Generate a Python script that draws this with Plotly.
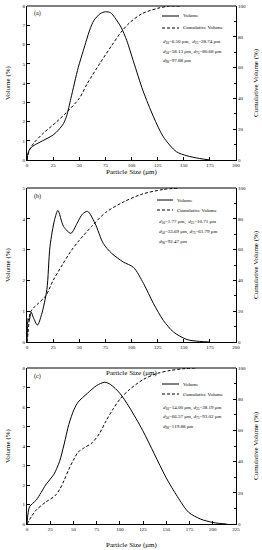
import plotly.graph_objects as go
from plotly.subplots import make_subplots

# ---------------- data ----------------
# Panel (a)
a_vol_x = [0, 1, 3, 8, 15, 25, 30, 35, 38, 42, 49, 54, 60, 64, 70, 75, 80, 84, 90, 95.5, 102, 111, 121, 130.5, 143, 153, 165, 175]
a_vol_y = [0, 0.35, 0.6, 0.8, 1.0, 1.3, 1.55, 1.9, 2.3, 3.2, 4.8, 5.7, 6.75, 7.25, 7.6, 7.7, 7.65, 7.4, 6.9, 6.2, 5.1, 3.6, 2.25, 1.2, 0.43, 0.22, 0.08, 0]
a_cum_x = [0, 2, 6.5, 15, 28.7, 38, 50, 58, 70, 80.7, 90, 98, 110, 125, 135, 148]
a_cum_y = [0, 6, 11, 17, 25, 31, 40, 50, 63, 74, 83, 89, 95, 98.5, 99.8, 100]
a_text = ["<i>d</i><sub>10</sub>=6.50 μm,  <i>d</i><sub>25</sub>=28.74 μm",
          "<i>d</i><sub>50</sub>=58.13 μm, <i>d</i><sub>75</sub>=80.68 μm",
          "<i>d</i><sub>90</sub>=97.88 μm"]

# Panel (b)
b_vol_x = [0, 0.5, 1, 2, 4, 6, 10, 14, 19, 22, 26.4, 29.6, 35, 42, 48, 53, 58, 65, 73, 81, 92, 102, 111.5, 121, 130.5, 140, 153, 165, 175]
b_vol_y = [0, 0.5, 0.76, 0.7, 0.97, 0.8, 0.55, 0.9, 1.7, 3.1, 3.97, 4.27, 3.75, 3.53, 3.86, 4.15, 4.24, 3.86, 3.2, 2.88, 2.6, 2.42, 1.9, 1.25, 0.7, 0.33, 0.08, 0.02, 0]
b_cum_x = [0, 1, 1.77, 3, 6, 10.7, 18, 25, 33.7, 42, 50, 61.8, 75, 92.5, 110, 130, 146]
b_cum_y = [0, 6, 12, 19, 22, 25, 30, 40, 50, 59, 66, 75, 84, 91, 96, 99, 100]
b_text = ["<i>d</i><sub>10</sub>=1.77 μm,  <i>d</i><sub>25</sub>=10.71 μm",
          "<i>d</i><sub>50</sub>=33.69 μm, <i>d</i><sub>75</sub>=61.79 μm",
          "<i>d</i><sub>90</sub>=92.47 μm"]

# Panel (c)
c_vol_x = [0, 1, 2.8, 6, 10, 15, 20, 25, 29, 35, 40, 45, 50.5, 55, 65, 75, 83.6, 90, 100, 110, 124.5, 137, 149.5, 162, 174, 187, 199, 207, 215]
c_vol_y = [0, 0.5, 0.89, 1.05, 1.23, 1.6, 2.0, 2.3, 2.55, 3.2, 4.1, 5.1, 5.86, 6.25, 6.7, 7.1, 7.27, 7.15, 6.7, 6.0, 4.8, 3.6, 2.4, 1.4, 0.6, 0.25, 0.09, 0.03, 0]
c_cum_x = [0, 5, 10, 20, 30, 35, 40, 45, 50, 55, 62, 70, 78, 85, 93, 100, 110, 125, 140, 155, 170, 181]
c_cum_y = [0, 5, 9, 14, 18, 22, 28, 35, 41, 46, 49, 52, 58, 66, 74, 80, 86, 92.6, 96.5, 98.5, 99.6, 100]
c_text = ["<i>d</i><sub>10</sub>=14.00 μm, <i>d</i><sub>25</sub>=38.19 μm",
          "<i>d</i><sub>50</sub>=66.57 μm, <i>d</i><sub>75</sub>=93.02 μm",
          "<i>d</i><sub>90</sub>=119.88 μm"]

panels = [
    dict(label="(a)", vx=a_vol_x, vy=a_vol_y, cx=a_cum_x, cy=a_cum_y, txt=a_text, xmax=200, ymax=8),
    dict(label="(b)", vx=b_vol_x, vy=b_vol_y, cx=b_cum_x, cy=b_cum_y, txt=b_text, xmax=200, ymax=5),
    dict(label="(c)", vx=c_vol_x, vy=c_vol_y, cx=c_cum_x, cy=c_cum_y, txt=c_text, xmax=225, ymax=8),
]

# ---------------- layout geometry (pixels) ----------------
W, H = 262, 550
L, R = 27, 26
PW = W - L - R
ybox = [(6, 160), (188, 342), (368, 524)]
xtitle_y = [172, 373, 545]
leg = [
    dict(x0=162, x1=179, tx=181, ys=[16, 28], ds=[42, 52, 61], dx=161),
    dict(x0=157, x1=173, tx=175, ys=[200, 210], ds=[222, 232, 242], dx=157),
    dict(x0=162, x1=179, tx=181, ys=[384, 394], ds=[408, 417, 427], dx=161),
]

FONT = "Liberation Serif"
BLK = "black"


def px_paper(px, py):
    return (px - L) / PW, 1 - py / H


fig = make_subplots(rows=3, cols=1, specs=[[{"secondary_y": True}]] * 3)

for i, p in enumerate(panels):
    r = i + 1
    fig.add_trace(go.Scatter(x=p["vx"], y=p["vy"], mode="lines",
                             line=dict(color=BLK, width=1, shape="spline", smoothing=0.8),
                             showlegend=False, name="Volume", hoverinfo="skip"), row=r, col=1, secondary_y=False)
    fig.add_trace(go.Scatter(x=p["cx"], y=p["cy"], mode="lines",
                             line=dict(color=BLK, width=1, dash="3px,2px", shape="spline", smoothing=0.8),
                             showlegend=False, name="Cumulative Volume", hoverinfo="skip"), row=r, col=1, secondary_y=True)

axis_common = dict(showline=True, linecolor=BLK, linewidth=1, ticks="inside", ticklen=3, tickcolor=BLK,
                   tickfont=dict(family=FONT, size=5, color=BLK), showgrid=False, zeroline=False,
                   automargin=False, title=dict(text=""), ticklabelstandoff=0)

for i, p in enumerate(panels):
    top, bot = ybox[i]
    ydom = [1 - bot / H, 1 - top / H]
    xn = "xaxis" if i == 0 else f"xaxis{i+1}"
    yl = "yaxis" if i == 0 else f"yaxis{2*i+1}"
    yr = f"yaxis{2*i+2}"
    fig.layout[xn].update(domain=[0, 1], range=[0, p["xmax"]], dtick=25, tick0=0, **axis_common)
    fig.layout[yl].update(domain=ydom, range=[0, p["ymax"]], dtick=1, **axis_common)
    fig.layout[yr].update(range=[0, 100], dtick=20, side="right",
                          minor=dict(ticks="inside", ticklen=2, dtick=10, tickcolor=BLK, showgrid=False),
                          **axis_common)
    xr = "x" if i == 0 else f"x{i+1}"
    yref_dom = f"y{2*i+1 if i else ''} domain"
    # top frame line
    fig.add_shape(type="line", xref=f"{xr} domain", yref="paper", x0=0, x1=1, y0=ydom[1], y1=ydom[1],
                  line=dict(color=BLK, width=1))

    # axis titles
    ax_, ay_ = px_paper(131.5, xtitle_y[i])
    fig.add_annotation(xref="paper", yref="paper", x=ax_, y=ay_, text="Particle Size (μm)", showarrow=False,
                       xanchor="center", yanchor="middle", font=dict(family=FONT, size=7, color=BLK))
    mid = (top + bot) / 2
    lx_, ly_ = px_paper(8, mid)
    fig.add_annotation(xref="paper", yref="paper", x=lx_, y=ly_, text="Volume (%)", showarrow=False, textangle=-90,
                       xanchor="center", yanchor="middle", font=dict(family=FONT, size=7, color=BLK))
    rx_, ry_ = px_paper(256, mid)
    fig.add_annotation(xref="paper", yref="paper", x=rx_, y=ry_, text="Cumulative Volume (%)", showarrow=False,
                       textangle=-90, xanchor="center", yanchor="middle", font=dict(family=FONT, size=7, color=BLK))

    def px2dom(px, py):
        return (px - L) / PW, (bot - py) / (bot - top)

    lx, ly = px2dom(32, top + 8)
    fig.add_annotation(xref=f"{xr} domain", yref=yref_dom, x=lx, y=ly, text=p["label"],
                       showarrow=False, xanchor="left", yanchor="middle", font=dict(family=FONT, size=6, color=BLK))
    g = leg[i]
    for k, (dash, name) in enumerate([("solid", "Volume"), ("3px,2px", "Cumulative Volume")]):
        x0, yy = px2dom(g["x0"], g["ys"][k])
        x1, _ = px2dom(g["x1"], g["ys"][k])
        fig.add_shape(type="line", xref=f"{xr} domain", yref=yref_dom, x0=x0, x1=x1, y0=yy, y1=yy,
                      line=dict(color=BLK, width=1, dash=dash))
        tx, _ = px2dom(g["tx"], g["ys"][k])
        fig.add_annotation(xref=f"{xr} domain", yref=yref_dom, x=tx, y=yy, text=name,
                           showarrow=False, xanchor="left", yanchor="middle", font=dict(family=FONT, size=5, color=BLK))
    for k, t in enumerate(p["txt"]):
        tx, ty = px2dom(g["dx"], g["ds"][k])
        fig.add_annotation(xref=f"{xr} domain", yref=yref_dom, x=tx, y=ty, text=t,
                           showarrow=False, xanchor="left", yanchor="middle", font=dict(family=FONT, size=5, color=BLK))

fig.update_layout(width=W, height=H, margin=dict(l=L, r=R, t=0, b=0, autoexpand=False),
                  plot_bgcolor="white", paper_bgcolor="white", hovermode=False,
                  showlegend=False, font=dict(family=FONT, color=BLK))

fig.write_html("out.html", config={"displayModeBar": False, "staticPlot": True},
               post_script="document.body.style.margin='0';document.body.style.padding='0';")
